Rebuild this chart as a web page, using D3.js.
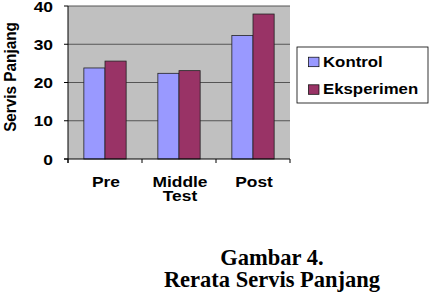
<!DOCTYPE html>
<html>
<head>
<meta charset="utf-8">
<script src="https://cdn.jsdelivr.net/npm/d3@7"></script>
<style>
  body { margin: 0; background: #fff; }
  text { font-family: "Liberation Sans", Arial, sans-serif; font-weight: bold; }
</style>
</head>
<body>
<script>
var categories = ['Pre', 'Middle\nTest', 'Post'];
var series = ['Kontrol', 'Eksperimen'];
var kontrol = [23.8, 22.4, 32.3];
var eksperimen = [25.6, 23.1, 37.9];
var yTicks = [0, 10, 20, 30, 40];
var colors = ['#9999ff', '#993366'];

var width = 436, height = 300;
var m = {left: 68, top: 6, right: 290, bottom: 159};
var sx = 1.2; // the original sans text is a bit wide

var svg = d3.select('body').append('svg')
    .attr('width', width)
    .attr('height', height);

function label(px, py, str, anchor, size) {
  return svg.append('text')
    .attr('transform', 'translate(' + px + ',' + py + ') scale(' + sx + ',1)')
    .attr('text-anchor', anchor).attr('font-size', size)
    .text(str);
}

var x = d3.scaleBand().domain(categories).range([m.left, m.right]).paddingInner(0).paddingOuter(0);
var y = d3.scaleLinear().domain([0, 40]).range([m.bottom, m.top]);

svg.append('rect')
    .attr('x', m.left).attr('y', m.top)
    .attr('width', m.right - m.left).attr('height', m.bottom - m.top)
    .attr('fill', '#c0c0c0');

// gridlines
svg.selectAll('.grid').data(yTicks.slice(1)).enter().append('line')
    .attr('x1', m.left).attr('x2', m.right)
    .attr('y1', function(d) { return y(d); }).attr('y2', function(d) { return y(d); })
    .attr('stroke', '#555').attr('stroke-width', 1);

// bars
var inner = d3.scaleBand().domain(series).range([0, x.bandwidth()]).paddingOuter(0.75).paddingInner(0);
var data = [kontrol, eksperimen];
categories.forEach(function(c, i) {
  series.forEach(function(s, j) {
    svg.append('rect')
      .attr('x', x(c) + inner(s))
      .attr('y', y(data[j][i]))
      .attr('width', inner.bandwidth())
      .attr('height', y(0) - y(data[j][i]))
      .attr('fill', colors[j])
      .attr('stroke', '#222').attr('stroke-width', 0.8);
  });
});

// axes
svg.append('line').attr('x1', m.left).attr('x2', m.left).attr('y1', m.top).attr('y2', m.bottom + 4).attr('stroke', '#000');
svg.append('line').attr('x1', m.left - 4).attr('x2', m.right).attr('y1', m.bottom).attr('y2', m.bottom).attr('stroke', '#000');

svg.selectAll('.ytick').data(yTicks).enter().append('line')
    .attr('x1', m.left - 4).attr('x2', m.left)
    .attr('y1', function(d) { return y(d); }).attr('y2', function(d) { return y(d); })
    .attr('stroke', '#000');
yTicks.forEach(function(d) {
  label(53, y(d) + 5.5, d, 'end', 14.5);
});

var xt = categories.map(function(c) { return x(c); }).concat([m.right]);
svg.selectAll('.xtick').data(xt).enter().append('line')
    .attr('x1', function(d) { return d; }).attr('x2', function(d) { return d; })
    .attr('y1', m.bottom).attr('y2', m.bottom + 4)
    .attr('stroke', '#000');

categories.forEach(function(c) {
  c.split('\n').forEach(function(l, k) {
    label(x(c) + x.bandwidth() / 2 + 1, 187 + k * 13.5, l, 'middle', 14.5);
  });
});

svg.append('text')
    .attr('transform', 'translate(15.5,77) scale(1.1,1) rotate(-90)')
    .attr('text-anchor', 'middle').attr('font-size', 15.3)
    .text('Servis Panjang');

// legend
svg.append('rect').attr('x', 297).attr('y', 47).attr('width', 131).attr('height', 56)
    .attr('fill', '#fff').attr('stroke', '#000').attr('stroke-width', 0.8);
series.forEach(function(s, j) {
  var yy = j ? 94.3 : 66.7;
  svg.append('rect').attr('x', 308.5).attr('y', yy - 9.5).attr('width', 10.5).attr('height', 9.5)
    .attr('fill', colors[j]).attr('stroke', '#000').attr('stroke-width', 0.7);
  label(323, yy, s, 'start', 14);
});

// caption
var serif = '"Liberation Serif", "Times New Roman", serif';
svg.append('text').attr('x', 272).attr('y', 265).attr('text-anchor', 'middle')
    .attr('font-size', 22.5).style('font-family', serif)
    .text('Gambar 4.');
svg.append('text').attr('x', 272).attr('y', 286.5).attr('text-anchor', 'middle')
    .attr('font-size', 22.5).style('font-family', serif)
    .text('Rerata Servis Panjang');
</script>
</body>
</html>
